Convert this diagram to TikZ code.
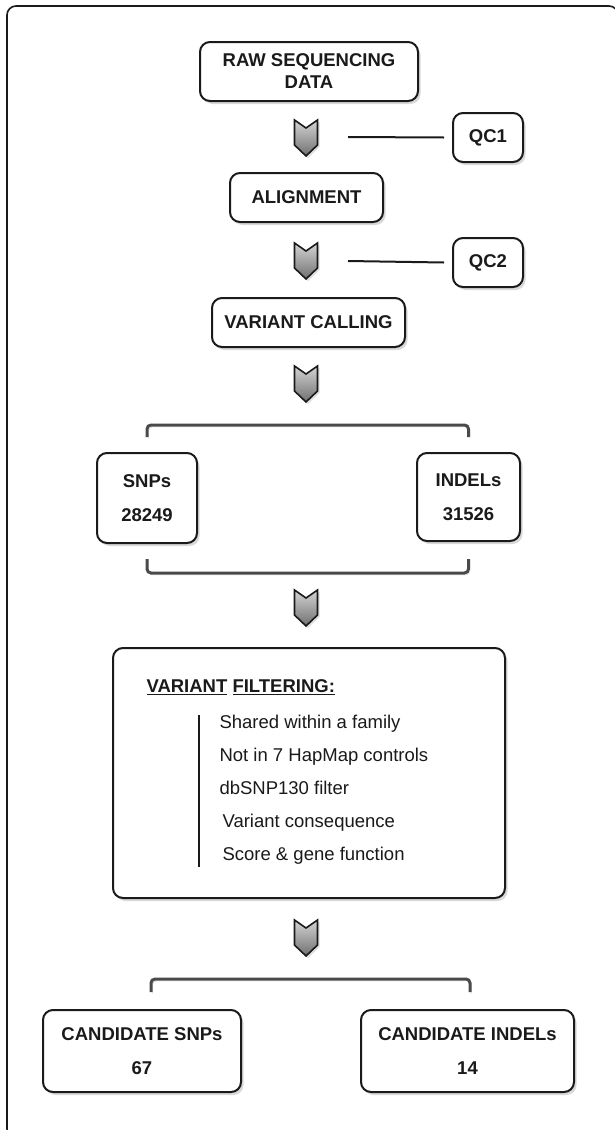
\documentclass[tikz,border=0pt]{standalone}
\usepackage{fontspec}
\setmainfont{Liberation Sans}
\usetikzlibrary{shadows, positioning}
\definecolor{inkDark}{HTML}{1A1A1A}
\definecolor{bracketGray}{HTML}{4A4A4A}
\definecolor{chevTop}{HTML}{D4D4D4}
\definecolor{chevBottom}{HTML}{707070}

\begin{document}
\begin{tikzpicture}[x=1pt, y=-1pt,
    stepbox/.style={rectangle, rounded corners=10pt, draw=inkDark, line width=2pt, fill=white,
      align=center, text=inkDark, font=\fontsize{18.5}{22}\selectfont\bfseries,
      drop shadow={shadow xshift=2.5pt, shadow yshift=-3pt, opacity=0.3}},
    qcline/.style={line width=2pt, draw=inkDark},
    bracket/.style={line width=3pt, draw=bracketGray, rounded corners=4pt,
      preaction={draw=black, opacity=0.2, transform canvas={xshift=1.5pt, yshift=-2pt}}},
    item/.style={anchor=west, text=inkDark, text height=13pt, text depth=4pt,
      font=\fontsize{18.5}{20}\selectfont},
    chevron/.pic={
      \path[draw=inkDark, line width=1.6pt, line join=miter, top color=chevTop, bottom color=chevBottom,
        drop shadow={shadow xshift=2pt, shadow yshift=-2pt, opacity=0.25}]
        (-11.5,0) -- (0,8) -- (11.5,0) -- (11.5,25) -- (0,36) -- (-11.5,25) -- cycle;
    }]
  \useasboundingbox (0,0) rectangle (614,1130);
  % --- outer frame ---
  \draw[inkDark, line width=1.6pt, rounded corners=9pt] (7,6) rectangle (618,1138);

  % --- sequencing and QC ---
  \node[stepbox, minimum width=218pt, minimum height=59pt] (raw) at (309,71.5) {RAW SEQUENCING\\DATA};
  \pic at (306,120) {chevron};
  \node[stepbox, minimum width=70pt, minimum height=49pt] (qc1) at (488,137.5) {QC1};
  \coordinate (q1) at (348,137);
  \draw[qcline] (q1) -- ([xshift=-8pt]qc1.west);
  \node[stepbox, minimum width=153pt, minimum height=49pt] (align) at (306.5,197.5) {ALIGNMENT};
  \pic at (306,243) {chevron};
  \node[stepbox, minimum width=70pt, minimum height=49pt] (qc2) at (488,262.5) {QC2};
  \coordinate (q2) at (348,261);
  \draw[qcline] (q2) -- ([xshift=-8pt]qc2.west);
  \node[stepbox, minimum width=193pt, minimum height=49pt] (vcall) at (308.5,322.5) {VARIANT CALLING};
  \pic at (306,366) {chevron};

  % --- raw variant sets ---
  \node[stepbox, minimum width=100pt, minimum height=90pt] (snps) at (147,498) {SNPs\\[12pt]28249};
  \node[stepbox, minimum width=103pt, minimum height=88pt] (indels) at (468.5,497) {INDELs\\[12pt]31526};
  \draw[bracket] ([yshift=15pt]snps.north) -- ++(0,-12) -| ([yshift=15pt]indels.north);
  \draw[bracket] ([yshift=-15pt]snps.south) -- ++(0,14) -| ([yshift=-17pt]indels.south);
  \pic at (306,590) {chevron};

  % --- filtering ---
  \node[stepbox, minimum width=392pt, minimum height=250pt] (filt) at (309,773) {};
  \node[anchor=west, text=inkDark, font=\fontsize{18.5}{20}\selectfont\bfseries] (ftitle) at (143,687)
    {\underline{VARIANT} \underline{FILTERING:}};
  \coordinate (vtop) at (199,715);
  \coordinate (vbot) at (199,867);
  \draw[line width=2pt, inkDark] (vtop) -- (vbot);
  \node[item] (f1) at (216,724) {Shared within a family};
  \node[item] (f2) at (216,757) {Not in 7 HapMap controls};
  \node[item] (f3) at (216,790) {dbSNP130 filter};
  \node[item] (f4) at (219,823) {Variant consequence};
  \node[item] (f5) at (219,856) {Score \& gene function};
  \pic at (306,920) {chevron};

  % --- candidates ---
  \node[stepbox, minimum width=198pt, minimum height=82pt] (csnp) at (142,1051) {CANDIDATE SNPs\\[12pt]67};
  \node[stepbox, minimum width=213pt, minimum height=82pt] (cindel) at (467.5,1051) {CANDIDATE INDELs\\[12pt]14};
  \draw[bracket] ([xshift=9pt, yshift=17pt]csnp.north) -- ++(0,-13) -| ([xshift=2.5pt, yshift=17pt]cindel.north);
\end{tikzpicture}
\end{document}
